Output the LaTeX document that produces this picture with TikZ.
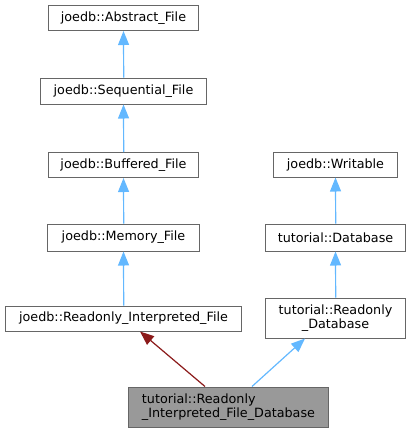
\documentclass[tikz,border=0pt]{standalone}
\usepackage{fontspec}
\setmainfont{DejaVu Sans}
\usetikzlibrary{arrows.meta}
\definecolor{edgeblue}{HTML}{63B8FF}
\definecolor{edgered}{HTML}{8B1A1A}
\definecolor{boxline}{HTML}{666666}
\definecolor{boxgray}{HTML}{999999}
\begin{document}
\begin{tikzpicture}[x=1bp,y=-1bp,
  cls/.style={draw=boxline,line width=1bp,fill=white,inner sep=0pt,
    font=\fontsize{12.8}{14}\selectfont,text=black,align=center},
  inh/.style={color=edgeblue,line width=1.2bp,-{Triangle[length=14bp,width=11bp]}},
  priv/.style={color=edgered,line width=1.2bp,-{Triangle[length=14bp,width=11bp]}}]
\useasboundingbox (0,0) rectangle (410,432);
\node[cls,minimum width=150bp,minimum height=25.5bp] (abs) at (123.5,17.75) {joedb::Abstract\_File};
\node[cls,minimum width=166bp,minimum height=26bp] (seq) at (123.5,91) {joedb::Sequential\_File};
\node[cls,minimum width=150bp,minimum height=25bp] (buf) at (123.5,165) {joedb::Buffered\_File};
\node[cls,minimum width=151bp,minimum height=27bp] (mem) at (123.5,237.5) {joedb::Memory\_File};
\node[cls,minimum width=236bp,minimum height=25bp] (rif) at (123.5,318.5) {joedb::Readonly\_Interpreted\_File};
\node[cls,minimum width=123bp,minimum height=25bp] (wri) at (335.5,164.5) {joedb::Writable};
\node[cls,minimum width=139bp,minimum height=27bp] (db) at (335.5,237.5) {tutorial::Database};
\node[cls,minimum width=139bp,minimum height=40bp] (rdb) at (335.5,318) {tutorial::Readonly\\\_Database};
\node[cls,fill=boxgray,minimum width=199bp,minimum height=40bp,align=left] (bot) at (228.5,407) {tutorial::Readonly\\\_Interpreted\_File\_Database};
\draw[inh] ([xshift=0.2bp]seq.north) -- (abs.south);
\draw[inh] ([xshift=0.2bp]buf.north) -- (seq.south);
\draw[inh] ([xshift=0.2bp]mem.north) -- (buf.south);
\draw[inh] ([xshift=0.2bp]rif.north) -- (mem.south);
\draw[inh] ([xshift=0.2bp]db.north) -- (wri.south);
\draw[inh] ([xshift=0.2bp]rdb.north) -- (db.south);
\draw[priv] ([xshift=-23.5bp]bot.north) -- ([xshift=16.5bp]rif.south);
\draw[inh] ([xshift=23.5bp]bot.north) -- ([xshift=-30.5bp]rdb.south);
\end{tikzpicture}
\end{document}
